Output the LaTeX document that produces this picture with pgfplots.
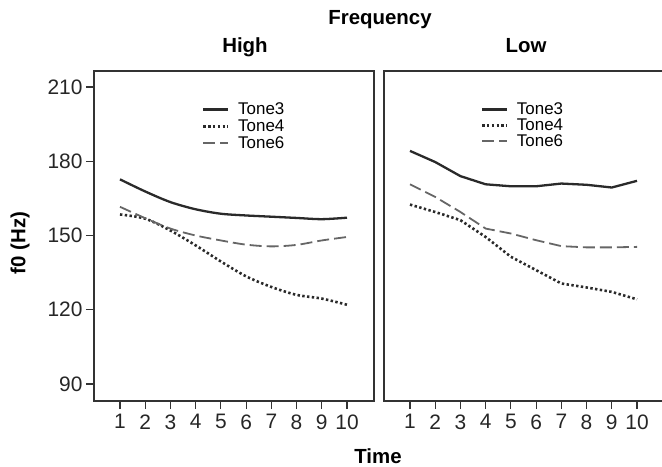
\documentclass[border=0pt]{standalone}
\usepackage{pgfplots}
\pgfplotsset{compat=1.18}
\usepackage{fontspec}
\setmainfont{Liberation Sans}
\definecolor{cA}{HTML}{2A2A2A}
\definecolor{cB}{HTML}{666666}
\definecolor{axc}{HTML}{333333}
\begin{document}
\begin{tikzpicture}[x=1bp,y=1bp]
\pgfplotsset{
 base/.style={
  scale only axis, width=280bp, height=330bp,
  xmin=-0.03, xmax=11.07, ymin=83.1, ymax=216.5,
  xtick={1,...,10},
  xtick pos=lower, ytick pos=left,
  axis line style={axc, line width=1.3bp},
  tick style={axc, line width=1.2bp},
  tick align=outside, major tick length=8bp,
  /pgf/number format/assume math mode=true,
  ticklabel style={font=\fontsize{21}{21}\selectfont, text=black!85},
  xticklabel style={yshift=-2bp},
  title style={font=\bfseries\fontsize{20.5}{20.5}\selectfont, at={(axis description cs:0.5,1)}, anchor=base, yshift=13bp},
  legend style={draw=none, fill=none, font=\fontsize{17}{17}\selectfont, inner sep=0pt, outer sep=0pt,
    nodes={inner sep=0.5bp}, anchor=north west,
    /tikz/every odd column/.append style={column sep=8bp}},
  legend cell align=left,
  legend image code/.code={\draw[##1] (0bp,0bp) -- (25bp,0bp);},
 },
 t3/.style={cA, line width=2.3bp},
 t4/.style={cA, line width=2.6bp, dash pattern=on 2.4bp off 2.4bp},
 t6/.style={cB, line width=1.8bp, dash pattern=on 12bp off 5bp},
}
\begin{axis}[base, at={(94bp,66bp)}, anchor=south west,
  ytick={90,120,150,180,210},
  title={High}, title style={xshift=11bp},
  ylabel={f0 (Hz)},
  ylabel style={font=\bfseries\fontsize{20.5}{20.5}\selectfont, at={(axis description cs:-0.264,0.479)}, anchor=center},
  legend style={at={(axis description cs:0.386,0.905)}, row sep=2.5bp},
]
\addplot[t3, smooth] coordinates {(1,172.7)(2,167.8)(3,163.5)(4,160.6)(5,158.8)(6,158.1)(7,157.6)(8,157.1)(9,156.6)(10,157.2)};
\addplot[t4, smooth] coordinates {(1,158.5)(2,156.8)(3,152)(4,146)(5,139.5)(6,133.5)(7,129.2)(8,126)(9,124.5)(10,122)};
\addplot[t6, smooth] coordinates {(1,161.6)(2,157)(3,152.8)(4,150)(5,148)(6,146.3)(7,145.6)(8,146.2)(9,148)(10,149.4)};
\legend{Tone3,Tone4,Tone6}
\end{axis}
\begin{axis}[base, at={(384bp,66bp)}, anchor=south west,
  ymajorticks=false,
  title={Low}, title style={xshift=2bp},
  legend style={at={(axis description cs:0.346,0.905)}, row sep=1.5bp},
]
\addplot[t3] coordinates {(1,184.2)(2,179.7)(3,174)(4,170.7)(5,169.9)(6,169.9)(7,171)(8,170.5)(9,169.4)(10,172.1)};
\addplot[t4] coordinates {(1,162.5)(2,159.5)(3,156.2)(4,149.4)(5,141.4)(6,136)(7,130.6)(8,129)(9,127.2)(10,124.2)};
\addplot[t6] coordinates {(1,170.7)(2,165.6)(3,159.5)(4,152.8)(5,150.8)(6,148.1)(7,145.7)(8,145.2)(9,145.2)(10,145.4)};
\legend{Tone3,Tone4,Tone6}
\end{axis}
\node[font=\bfseries\fontsize{20.5}{20.5}\selectfont, anchor=base] at (380bp,442bp) {Frequency};
\node[font=\bfseries\fontsize{20.5}{20.5}\selectfont, anchor=base] at (378bp,4bp) {Time};
\pgfresetboundingbox
\path[use as bounding box] (0bp,0bp) rectangle (662bp,467bp);
\end{tikzpicture}
\end{document}
